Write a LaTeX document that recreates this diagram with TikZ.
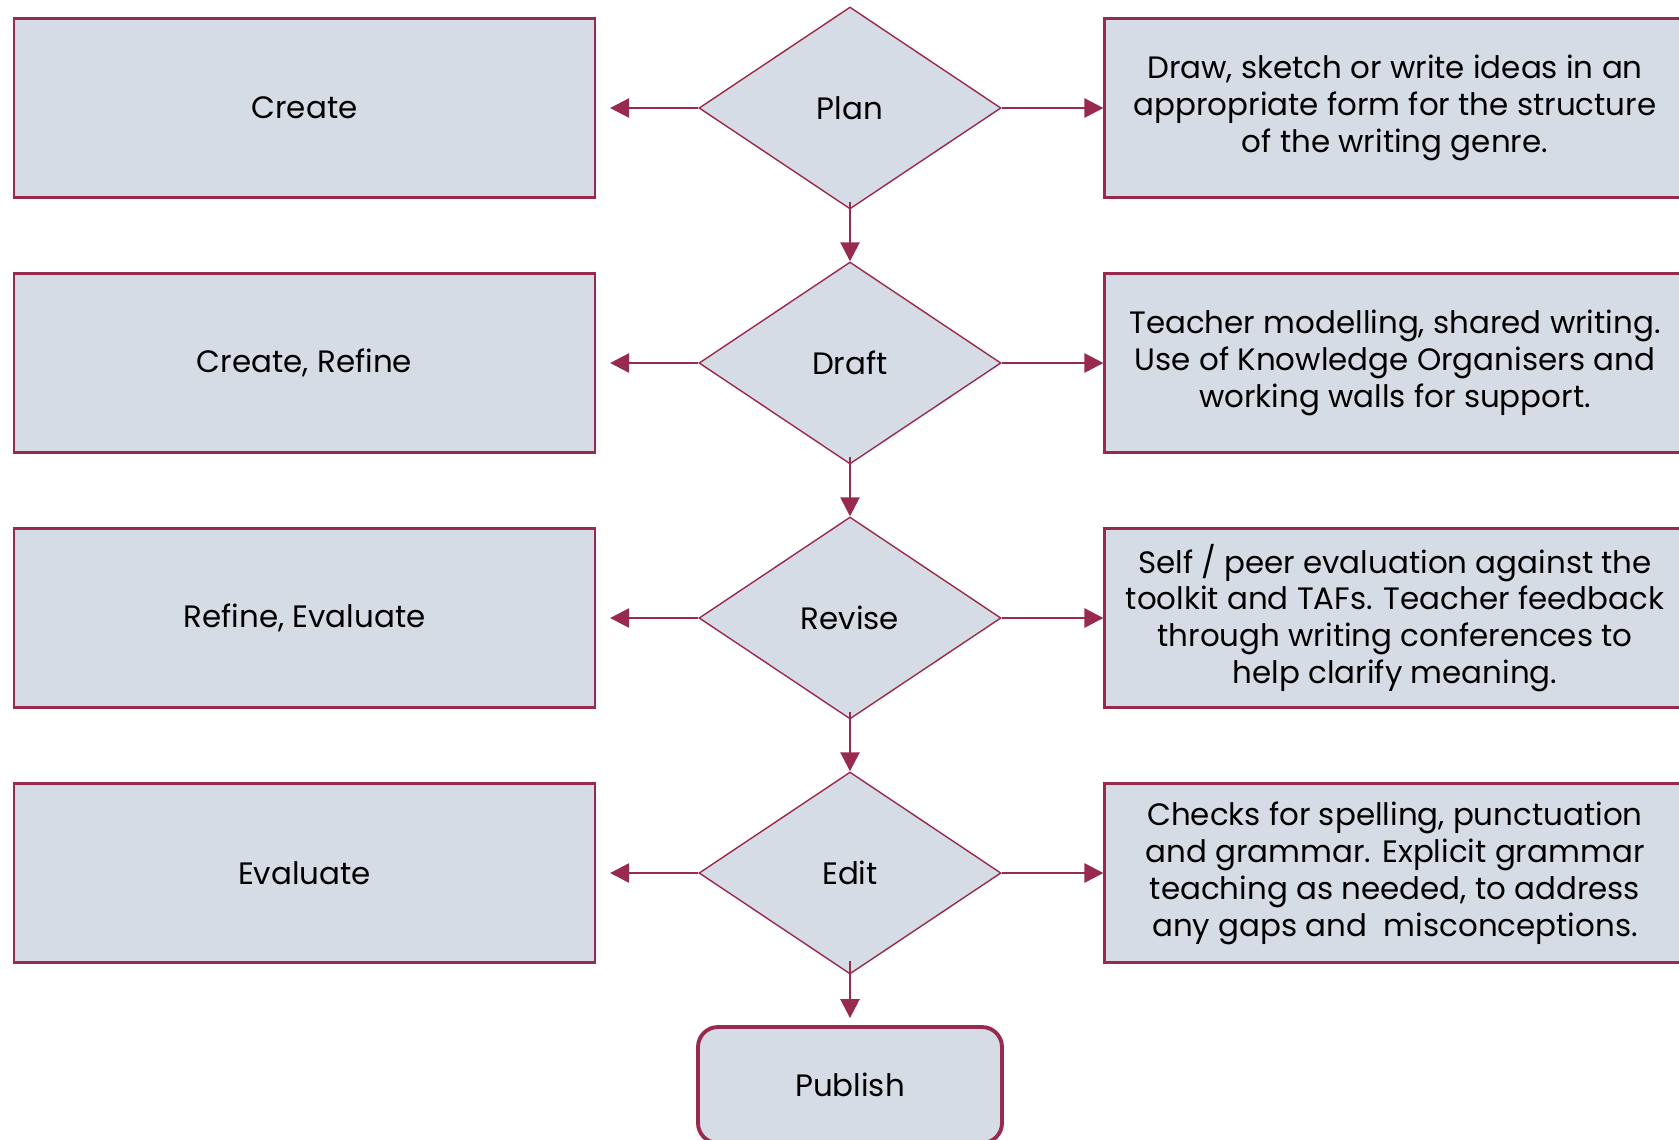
\documentclass[tikz,border=0pt]{standalone}
\usepackage{fontspec}
\setmainfont{Poppins}
\usepackage{xcolor}
\usepackage{tikz}
\usetikzlibrary{shapes.geometric, arrows.meta, positioning}
\definecolor{wine}{HTML}{982B4D}
\definecolor{paleblue}{HTML}{D6DCE5}

\begin{document}
\begin{tikzpicture}[
    box/.style={rectangle, draw=wine, line width=0.6pt, fill=paleblue,
                minimum width=5.81cm, minimum height=1.79cm, align=center,
                font=\fontsize{8.8}{10.5}\selectfont},
    dec/.style={diamond, draw=wine, line width=0.4pt, fill=paleblue,
                minimum width=3.02cm, minimum height=2.02cm, aspect=1.5,
                inner sep=0pt, font=\fontsize{8.8}{10.5}\selectfont},
    endbox/.style={rectangle, rounded corners=0.2cm, draw=wine, line width=1.1pt,
                fill=paleblue, minimum width=3.04cm, minimum height=1.16cm,
                font=\fontsize{8.8}{10.5}\selectfont},
    arrow/.style={-{Triangle[length=1.9mm,width=1.9mm]}, draw=wine, line width=0.75pt},
]
\useasboundingbox (0,0) rectangle (16.79,-11.39);

\node[dec]    (plan)  at (8.50,-1.08)  {Plan};
\node[dec]    (draft) at (8.50,-3.63)  {Draft};
\node[dec]    (rev)   at (8.50,-6.18)  {Revise};
\node[dec]    (edit)  at (8.50,-8.73)  {Edit};
\node[endbox] (pub)   at (8.50,-10.85) {Publish};

\node[box] (crt) at (3.045,-1.08) {Create};
\node[box] (crf) at (3.045,-3.63) {Create, Refine};
\node[box] (rfe) at (3.045,-6.18) {Refine, Evaluate};
\node[box] (evl) at (3.045,-8.73) {Evaluate};

\node[box] (dplan)  at (13.95,-1.08) {Draw, sketch or write ideas in an\\appropriate form for the structure\\of the writing genre.};
\node[box] (ddraft) at (13.95,-3.63) {Teacher modelling, shared writing.\\Use of Knowledge Organisers and\\working walls for support.};
\node[box] (drev)   at (13.95,-6.18) {Self / peer evaluation against the\\toolkit and TAFs. Teacher feedback\\through writing conferences to\\help clarify meaning.};
\node[box] (dedit)  at (13.95,-8.73) {Checks for spelling, punctuation\\and grammar. Explicit grammar\\teaching as needed, to address\\any gaps and~ misconceptions.};

\draw[arrow] ([yshift=0.08cm]plan.south)  -- (draft.north);
\draw[arrow] ([yshift=0.08cm]draft.south) -- (rev.north);
\draw[arrow] ([yshift=0.08cm]rev.south)   -- (edit.north);
\draw[arrow] ([yshift=0.14cm]edit.south)  -- ([yshift=0.07cm]pub.north);

\draw[arrow] (plan.west)  -- ([xshift=0.14cm]crt.east);
\draw[arrow] (draft.west) -- ([xshift=0.14cm]crf.east);
\draw[arrow] (rev.west)   -- ([xshift=0.14cm]rfe.east);
\draw[arrow] (edit.west)  -- ([xshift=0.14cm]evl.east);

\draw[arrow] (plan.east)  -- (dplan.west);
\draw[arrow] (draft.east) -- (ddraft.west);
\draw[arrow] (rev.east)   -- (drev.west);
\draw[arrow] (edit.east)  -- (dedit.west);
\end{tikzpicture}
\end{document}
